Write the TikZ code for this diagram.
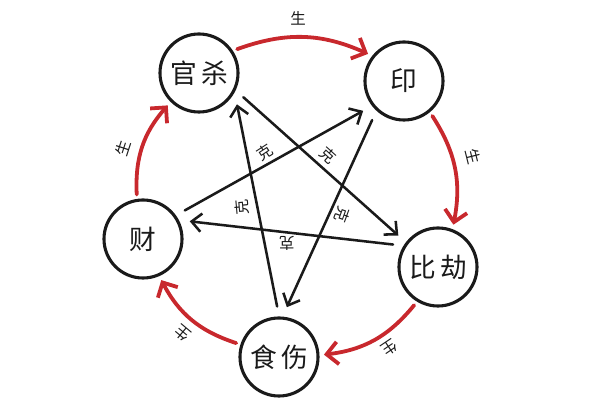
\documentclass[tikz,border=0pt]{standalone}
\usepackage{fontspec}
\newfontfamily\cjk{Noto Sans CJK SC}
\usetikzlibrary{arrows.meta}
\definecolor{wxink}{HTML}{1A1A1A}
\definecolor{shengred}{HTML}{C8282D}

\begin{document}
\begin{tikzpicture}[
  x=0.025cm, y=0.025cm,
  line cap=round, line join=round,
  wx/.style = {draw=wxink, line width=2.2pt, circle, minimum size=1.95cm,
               inner sep=0pt, outer sep=0.15cm, text=wxink,
               font=\cjk\fontsize{19}{21}\selectfont},
  sheng/.style = {draw=shengred, line width=2.7pt, bend left=22,
                  -{Straight Barb[length=8pt, width=16pt]}},
  ke/.style = {draw=wxink, line width=1.8pt, shorten <=4pt, shorten >=4pt,
               -{Straight Barb[length=7pt, width=13pt]}},
  lbl/.style = {font=\cjk\fontsize{11}{13}\selectfont, text=wxink, inner sep=0pt}
]

\useasboundingbox (0,0) rectangle (600,400);

% 五个节点
\node[wx] (guansha)  at (199,327) {官\hspace{3pt}杀};
\node[wx] (yin)      at (404,319) {印};
\node[wx] (bijie)    at (438,133) {比\hspace{3pt}劫};
\node[wx] (shishang) at (279,43)  {食\hspace{3pt}伤};
\node[wx] (cai)      at (143,161) {财};

% 相生 (外圈)
\draw[sheng] (guansha.32) to (yin.143);
\draw[sheng] (yin.-51) to (bijie.70);
\draw[sheng] (bijie.-122) to (shishang.3);
\draw[sheng] (shishang.162) to (cai.-66);
\draw[sheng] (cai.98) to (guansha.-134);

\node[lbl] (s1) at (298,382) {生};
\node[lbl, rotate=-76] (s2) at (473,243) {生};
\node[lbl, rotate=-146] (s3) at (390,52) {生};
\node[lbl, rotate=140] (s4) at (183,67) {生};
\node[lbl, rotate=72] (s5) at (123,252) {生};

% 相克 (五角星)
\draw[ke] (guansha.-27) -- (bijie.142);
\draw[ke] (bijie.151) -- (cai.24);
\draw[ke] (cai.35) -- (yin.-143);
\draw[ke] (yin.-131) -- (shishang.83);
\draw[ke] (shishang.91) -- (guansha.-35);

\node[lbl, rotate=33] (k1) at (265,248) {克};
\node[lbl, rotate=-42] (k2) at (328,245) {克};
\node[lbl, rotate=-110] (k3) at (342,185) {克};
\node[lbl, rotate=180] (k4) at (287,157) {克};
\node[lbl, rotate=95] (k5) at (242,193) {克};

\end{tikzpicture}
\end{document}
